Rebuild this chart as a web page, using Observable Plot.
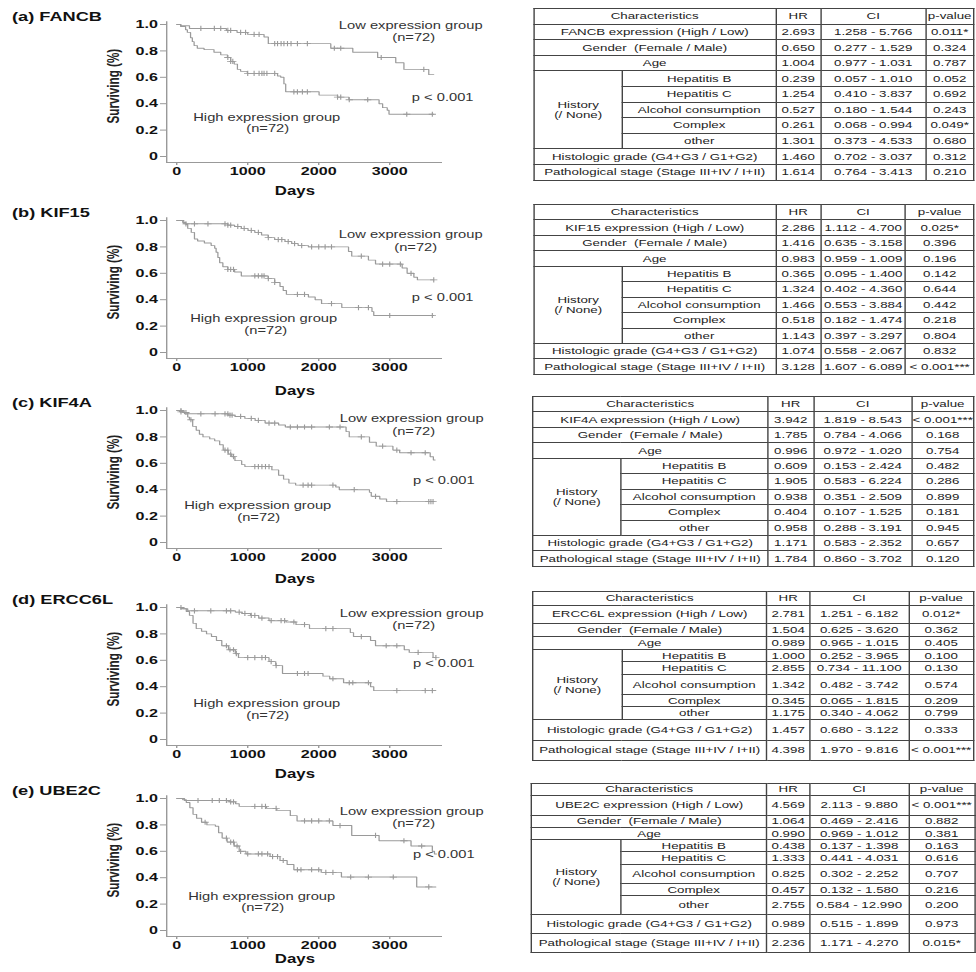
<!DOCTYPE html>
<html><head><meta charset="utf-8">
<script src="https://cdn.jsdelivr.net/npm/d3@7"></script>
<script src="https://cdn.jsdelivr.net/npm/@observablehq/plot@0.6"></script>
<style>
html,body{margin:0;padding:0;background:#fff;}
#stage{position:relative;width:697px;height:972px;transform:scaleX(1.4);transform-origin:0 0;font-family:"Liberation Sans",Arial,sans-serif;}
.title{position:absolute;font-weight:bold;font-size:13px;color:#111;white-space:nowrap;line-height:13px;}
.km{position:absolute;left:0;}
table.t{position:absolute;border-collapse:collapse;table-layout:fixed;font-size:9.5px;color:#222;border:1.6px solid #333;}
table.t td{border:0.8px solid #444;text-align:center;padding:0;white-space:pre;overflow:hidden;line-height:1.05;}
</style>
</head><body><div id="stage"></div>
<script>
// ---------- data ----------
const genes = ["FANCB", "KIF15", "KIF4A", "ERCC6L", "UBE2C"];
const letters = ["a", "b", "c", "d", "e"];
const yTicks = [0, 0.2, 0.4, 0.6, 0.8, 1.0];
const xTicks = [0, 1000, 2000, 3000];
const annTexts = ["Low expression group", "(n=72)", "p < 0.001", "High expression group", "(n=72)"];
const rowLabels = ["Gender  (Female / Male)", "Age", "Hepatitis B", "Hepatitis C", "Alcohol consumption", "Complex", "other", "Histologic grade (G4+G3 / G1+G2)", "Pathological stage (Stage III+IV / I+II)"];

// Kaplan-Meier steps [day, surviving] and censored days
const aLow = [[0,1],[60,0.99],[180,0.97],[700,0.955],[850,0.94],[1000,0.925],[1230,0.905],[1290,0.855],[2170,0.82],[2480,0.79],[2830,0.75],[3085,0.71],[3200,0.66],[3550,0.62],[3620,0.62]];
const aLowC = [340,530,620,720,760,900,970,1090,1160,1380,1420,1470,1510,1560,1610,1700,1840,2220,2310,2880,3480];
const aHigh = [[0,1],[55,0.985],[125,0.96],[150,0.94],[195,0.9],[220,0.87],[245,0.84],[290,0.82],[385,0.81],[525,0.79],[620,0.77],[715,0.75],[760,0.72],[810,0.7],[855,0.66],[900,0.645],[995,0.63],[1420,0.61],[1465,0.6],[1510,0.55],[1535,0.49],[2005,0.465],[2265,0.45],[2425,0.43],[2850,0.4],[2900,0.37],[2965,0.35],[2990,0.32],[3620,0.32]];
const aHighC = [720,760,790,1000,1090,1160,1200,1230,1270,1380,1650,1700,1770,1840,2265,2310,2430,2690,3240,3600];

const bLow = [[0,1],[100,0.975],[720,0.965],[815,0.955],[910,0.94],[1005,0.925],[1100,0.91],[1195,0.89],[1290,0.87],[1380,0.855],[1525,0.84],[1620,0.825],[1710,0.81],[1855,0.8],[2420,0.765],[2465,0.73],[2700,0.7],[2800,0.67],[3175,0.64],[3245,0.6],[3340,0.57],[3390,0.55],[3620,0.55]];
const bLowC = [130,250,440,680,720,760,860,950,1050,1150,1290,1430,1480,1570,1660,1760,1900,2000,2090,2180,2600,2900,3000,3150,3300,3620];
const bHigh = [[0,1],[85,0.985],[130,0.97],[155,0.94],[205,0.91],[250,0.86],[295,0.845],[390,0.83],[485,0.81],[535,0.79],[555,0.76],[580,0.72],[605,0.68],[650,0.65],[720,0.63],[815,0.61],[910,0.58],[1290,0.56],[1380,0.53],[1455,0.5],[1500,0.47],[1545,0.44],[1855,0.42],[1950,0.4],[2040,0.37],[2325,0.34],[2750,0.31],[2775,0.28],[3620,0.28]];
const bHighC = [720,760,800,1100,1150,1200,1230,1290,1380,1700,1800,2180,2560,2700,3000,3600];

const cLow = [[0,1],[85,0.985],[155,0.975],[725,0.965],[820,0.955],[960,0.94],[1105,0.925],[1245,0.905],[1435,0.89],[1530,0.875],[2385,0.84],[2430,0.8],[2715,0.76],[2810,0.73],[3045,0.7],[3140,0.68],[3570,0.65],[3615,0.625],[3640,0.625]];
const cLowC = [60,130,340,540,680,720,750,780,900,1050,1150,1300,1380,1600,1700,1800,1900,2150,2300,2600,2900,3100,3300,3500];
const cHigh = [[0,1],[40,0.99],[110,0.975],[155,0.95],[180,0.93],[225,0.88],[275,0.85],[320,0.82],[370,0.8],[465,0.785],[535,0.77],[605,0.74],[655,0.7],[725,0.67],[775,0.65],[820,0.62],[915,0.59],[960,0.575],[1340,0.55],[1435,0.51],[1505,0.48],[1580,0.45],[1675,0.435],[2240,0.42],[2290,0.4],[2715,0.38],[2740,0.35],[2860,0.33],[2955,0.31],[3615,0.31]];
const cHighC = [60,200,680,720,760,800,1100,1150,1200,1250,1300,1780,1850,1900,2200,2500,2800,3100,3550,3580,3610];

const dLow = [[0,1],[85,0.99],[155,0.975],[825,0.965],[920,0.955],[1040,0.94],[1155,0.92],[1300,0.9],[1540,0.89],[1680,0.87],[1870,0.84],[2445,0.81],[2490,0.78],[2730,0.75],[2800,0.71],[3205,0.68],[3275,0.66],[3610,0.62],[3650,0.62]];
const dLowC = [60,250,480,700,760,880,960,1050,1100,1200,1330,1470,1520,1650,1800,2100,2200,2600,2950,3100,3400,3650];
const dHigh = [[0,1],[60,0.99],[135,0.97],[180,0.94],[230,0.88],[275,0.84],[350,0.82],[420,0.8],[490,0.78],[560,0.75],[635,0.71],[730,0.68],[825,0.65],[870,0.62],[1300,0.59],[1395,0.56],[1490,0.5],[2060,0.48],[2155,0.46],[2350,0.43],[2730,0.4],[2775,0.37],[3650,0.37]];
const dHighC = [700,750,800,840,1000,1100,1200,1250,1330,1400,1700,1800,1850,2200,2430,2480,2700,3100,3500,3600];

const eLow = [[0,1],[110,0.985],[735,0.975],[830,0.96],[880,0.94],[1265,0.925],[1410,0.91],[1600,0.87],[1695,0.83],[2200,0.795],[2465,0.72],[2850,0.68],[3300,0.64],[3600,0.6],[3630,0.58],[3660,0.58]];
const eLowC = [300,500,600,700,760,800,1100,1200,1250,1400,1800,1900,2000,2150,2300,2800,3200,3450];
const eHigh = [[0,1],[85,0.99],[135,0.97],[185,0.93],[230,0.88],[280,0.85],[350,0.82],[425,0.8],[545,0.79],[590,0.74],[640,0.7],[710,0.67],[810,0.64],[880,0.6],[975,0.58],[1315,0.56],[1455,0.53],[1555,0.5],[1650,0.46],[2035,0.44],[2320,0.405],[3380,0.33],[3650,0.33]];
const eHighC = [400,700,760,800,850,900,1000,1150,1200,1280,1350,1420,1500,1700,1750,1900,2000,2100,2200,2450,2700,3050,3550];

// Cox regression tables
const aHR = [2.693,0.650,1.004,0.239,1.254,0.527,0.261,1.301,1.460,1.614];
const aCI = ["1.258 - 5.766","0.277 - 1.529","0.977 - 1.031","0.057 - 1.010","0.410 - 3.837","0.180 - 1.544","0.068 - 0.994","0.373 - 4.533","0.702 - 3.037","0.764 - 3.413"];
const aP = ["0.011*","0.324","0.787","0.052","0.692","0.243","0.049*","0.680","0.312","0.210"];
const bHR = [2.286,1.416,0.983,0.365,1.324,1.466,0.518,1.143,1.074,3.128];
const bCI = ["1.112 - 4.700","0.635 - 3.158","0.959 - 1.009","0.095 - 1.400","0.402 - 4.360","0.553 - 3.884","0.182 - 1.474","0.397 - 3.297","0.558 - 2.067","1.607 - 6.089"];
const bP = ["0.025*","0.396","0.196","0.142","0.644","0.442","0.218","0.804","0.832","< 0.001***"];
const cHR = [3.942,1.785,0.996,0.609,1.905,0.938,0.404,0.958,1.171,1.784];
const cCI = ["1.819 - 8.543","0.784 - 4.066","0.972 - 1.020","0.153 - 2.424","0.583 - 6.224","0.351 - 2.509","0.107 - 1.525","0.288 - 3.191","0.583 - 2.352","0.860 - 3.702"];
const cP = ["< 0.001***","0.168","0.754","0.482","0.286","0.899","0.181","0.945","0.657","0.120"];
const dHR = [2.781,1.504,0.989,1.000,2.855,1.342,0.345,1.175,1.457,4.398];
const dCI = ["1.251 - 6.182","0.625 - 3.620","0.965 - 1.015","0.252 - 3.965","0.734 - 11.100","0.482 - 3.742","0.065 - 1.815","0.340 - 4.062","0.680 - 3.122","1.970 - 9.816"];
const dP = ["0.012*","0.362","0.405","0.100","0.130","0.574","0.209","0.799","0.333","< 0.001***"];
const eHR = [4.569,1.064,0.990,0.438,1.333,0.825,0.457,2.755,0.989,2.236];
const eCI = ["2.113 - 9.880","0.469 - 2.416","0.969 - 1.012","0.137 - 1.398","0.441 - 4.031","0.302 - 2.252","0.132 - 1.580","0.584 - 12.990","0.515 - 1.899","1.171 - 4.270"];
const eP = ["< 0.001***","0.882","0.381","0.163","0.616","0.707","0.216","0.200","0.973","0.015*"];

// ---------- layout ----------
const S = 1.4;                       // horizontal stretch of the whole figure
const Y1 = [24, 220, 410, 607, 798]; // pixel row of survival 1.0 in each panel
const UNIT = 132;                    // pixels per survival 1.0
const daysDy = [33, 37, 35, 33, 27];
const annPos = [
  [[3296,0.992],[3338,0.90],[3746,0.447],[1268,0.295],[1282,0.212]],
  [[3296,0.894],[3366,0.795],[3746,0.417],[1225,0.258],[1254,0.167]],
  [[3310,0.94],[3338,0.84],[3761,0.47],[1141,0.28],[1155,0.19]],
  [[3310,0.955],[3338,0.864],[3761,0.576],[1268,0.273],[1282,0.182]],
  [[3310,0.90],[3338,0.81],[3761,0.576],[1197,0.258],[1211,0.174]]
];
const tableCols = [
  [533,622,775,820,925,973],
  [533,622,775,820,905,973],
  [532,620,767,813,911,973],
  [532,621,766,809,908,973],
  [531,620,766,809,908,974]];
const tableTop = [8,204,396,591,783];
const tableRows = [
  Array(11).fill(15.6), Array(11).fill(15.45), Array(11).fill(15.45),
  [13.7,18.3,13,12.7,12.7,13,19.3,12.7,13,20.3,20],
  [11.7,20,12.3,12,12.3,12.3,19.3,12.3,19,19.3,18.3]];

const curves = [[aLow,aHigh],[bLow,bHigh],[cLow,cHigh],[dLow,dHigh],[eLow,eHigh]];
const censors = [[aLowC,aHighC],[bLowC,bHighC],[cLowC,cHighC],[dLowC,dHighC],[eLowC,eHighC]];
const tables = [[aHR,aCI,aP],[bHR,bCI,bP],[cHR,cCI,cP],[dHR,dCI,dP],[eHR,eCI,eP]];

const stage = document.getElementById("stage");
const FONT = "'Liberation Sans', Arial, sans-serif";
const GRAY = "#9a9a9a";

function stepAt(steps, t) {
  let s = steps[0][1];
  for (const [ti, si] of steps) { if (ti <= t) s = si; else break; }
  return s;
}

function panel(i) {
  const [low, high] = curves[i];
  const lines = [
    ...low.map(([t, s]) => ({t, s, g: "low"})),
    ...high.map(([t, s]) => ({t, s, g: "high"}))];
  const cens = [
    ...censors[i][0].map(t => ({t, s: stepAt(low, t)})),
    ...censors[i][1].map(t => ({t, s: stepAt(high, t)}))];
  const ann = annTexts.map((text, k) => ({text, x: annPos[i][k][0], y: annPos[i][k][1]}));
  const W = 350;
  const mt = 25 - 0.02 * UNIT;
  const ph = 1.065 * UNIT;
  const mb = 42;
  const xmin = -141, xmax = 3746, ymin = -0.045, ymax = 1.02;
  const chart = Plot.plot({
    width: W, height: mt + ph + mb,
    marginLeft: 166 / S, marginRight: W - 442 / S, marginTop: mt, marginBottom: mb,
    x: {domain: [xmin, xmax]},
    y: {domain: [ymin, ymax]},
    style: {background: "transparent", overflow: "visible", font: `bold 11.5px ${FONT}`, color: "#111"},
    marks: [
      Plot.ruleX([xmin], {y1: ymin, y2: ymax, stroke: "#999", strokeWidth: 1}),
      Plot.ruleY([ymin], {x1: xmin, x2: xmax, stroke: "#999", strokeWidth: 1}),
      Plot.axisY({ticks: yTicks, tickFormat: d => d === 0 ? "0" : d.toFixed(1), tickSize: 4.3, tickPadding: 2, label: null, stroke: "#999", fill: "#111"}),
      Plot.axisX({ticks: xTicks, tickFormat: d => String(d), tickSize: 3, tickPadding: 1.5, label: null, stroke: "#999", fill: "#111"}),
      Plot.line(lines, {x: "t", y: "s", z: "g", curve: "step-after", stroke: GRAY, strokeWidth: 0.9}),
      Plot.dot(cens, {x: "t", y: "s", symbol: "plus", r: 1.8, stroke: GRAY, strokeWidth: 0.8}),
      Plot.text(ann, {x: "x", y: "y", text: "text", fontSize: 10.5, fontWeight: "normal", fill: "#333"}),
      Plot.text(["Days"], {frameAnchor: "bottom", dx: -7, dy: daysDy[i], fontSize: 12, fontWeight: "bold", fill: "#111"}),
      Plot.text(["Surviving (%)"], {frameAnchor: "left", textAnchor: "middle", rotate: -90, dx: -38, dy: -6, fontSize: 11.7, fontWeight: "bold", fill: "#222"})
    ]
  });
  chart.classList.add("km");
  chart.style.top = (Y1[i] - 25) + "px";
  stage.appendChild(chart);

  const title = document.createElement("div");
  title.className = "title";
  title.textContent = `(${letters[i]}) ${genes[i]}`;
  title.style.left = (12 / S) + "px";
  title.style.top = (Y1[i] - 8 - 6.5) + "px";
  stage.appendChild(title);
}

function table(i) {
  const [hr, ci, p] = tables[i];
  const cols = tableCols[i];
  const t = document.createElement("table");
  t.className = "t";
  t.style.left = (cols[0] / S) + "px";
  t.style.top = tableTop[i] + "px";
  t.style.width = ((cols[5] - cols[0]) / S) + "px";
  const cg = document.createElement("colgroup");
  for (let k = 0; k < 5; k++) {
    const c = document.createElement("col");
    c.style.width = ((cols[k + 1] - cols[k]) / S) + "px";
    cg.appendChild(c);
  }
  t.appendChild(cg);
  const rows = [];
  const cell = (tr, text, attrs = {}) => {
    const td = document.createElement("td");
    td.textContent = text;
    for (const [k, v] of Object.entries(attrs)) td.setAttribute(k, v);
    tr.appendChild(td);
    return td;
  };
  for (let r = 0; r < 11; r++) {
    const tr = document.createElement("tr");
    tr.style.height = tableRows[i][r] + "px";
    rows.push(tr);
    t.appendChild(tr);
  }
  cell(rows[0], "Characteristics", {colspan: 2});
  cell(rows[0], "HR"); cell(rows[0], "CI"); cell(rows[0], "p-value");
  const labels = [`${genes[i]} expression (High / Low)`, ...rowLabels];
  for (let k = 0; k < 10; k++) {
    const tr = rows[k + 1];
    if (k >= 3 && k <= 7) {
      if (k === 3) cell(tr, "History\n(/ None)", {rowspan: 5});
      cell(tr, labels[k]);
    } else {
      cell(tr, labels[k], {colspan: 2});
    }
    cell(tr, hr[k].toFixed(3));
    cell(tr, ci[k]);
    cell(tr, p[k]);
  }
  stage.appendChild(t);
}

for (let i = 0; i < 5; i++) { panel(i); table(i); }
</script>
</body></html>
